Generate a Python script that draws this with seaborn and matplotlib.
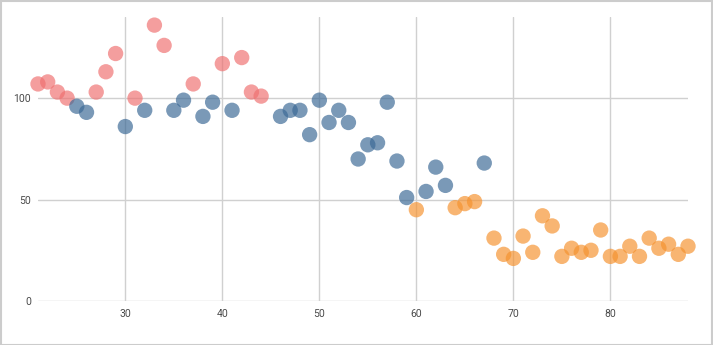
import matplotlib
matplotlib.use("Agg")
import matplotlib.pyplot as plt
from matplotlib.patches import Rectangle
import pandas as pd
import seaborn as sns

# Three groups of (age, value) observations
red_x = [21, 22, 23, 24, 27, 28, 29, 31, 33, 34, 37, 40, 42, 43, 44]
red_y = [107, 108, 103, 100, 103, 113, 122, 100, 136, 126, 107, 117, 120, 103, 101]

blue_x = [25, 26, 30, 32, 35, 36, 38, 39, 41, 46, 47, 48, 49, 50, 51, 52, 53,
          54, 55, 56, 57, 58, 59, 61, 62, 63, 67]
blue_y = [96, 93, 86, 94, 94, 99, 91, 98, 94, 91, 94, 94, 82, 99, 88, 94, 88,
          70, 77, 78, 98, 69, 51, 54, 66, 57, 68]

orange_x = [60, 64, 65, 66, 68, 69, 70, 71, 72, 73, 74, 75, 76, 77, 78, 79, 80,
            81, 82, 83, 84, 85, 86, 87, 88]
orange_y = [45, 46, 48, 49, 31, 23, 21, 32, 24, 42, 37, 22, 26, 24, 25, 35, 22,
            22, 27, 22, 31, 26, 28, 23, 27]

x_ticks = [30, 40, 50, 60, 70, 80]
y_ticks = [0, 50, 100]

df = pd.concat([
    pd.DataFrame({"x": red_x, "y": red_y, "group": "red"}),
    pd.DataFrame({"x": blue_x, "y": blue_y, "group": "blue"}),
    pd.DataFrame({"x": orange_x, "y": orange_y, "group": "orange"}),
], ignore_index=True)

palette = {"red": "#ef7070", "blue": "#3b6996", "orange": "#f5922f"}

sns.set_style("white")
plt.rcParams["font.family"] = ["Roboto", "DejaVu Sans"]

fig = plt.figure(figsize=(7.13, 3.45), dpi=100)
W, H = 713, 345
ax = fig.add_axes([38 / W, (H - 301) / H, (688 - 38) / W, (301 - 17) / H])

sns.scatterplot(data=df, x="x", y="y", hue="group", palette=palette,
                s=122, alpha=0.68, linewidth=0, legend=False, ax=ax,
                clip_on=False, zorder=3)

ax.set_xlim(21, 88)
ax.set_ylim(0, 140)
ax.set_xticks(x_ticks)
ax.set_yticks(y_ticks)
ax.set_xticklabels([str(v) for v in x_ticks])
ax.set_yticklabels([str(v) for v in y_ticks])
ax.set_xlabel("")
ax.set_ylabel("")
ax.grid(True, color="#d0d0d0", linewidth=1.0)
ax.set_axisbelow(True)
for sp in ax.spines.values():
    sp.set_visible(False)
ax.tick_params(axis="both", length=0, labelsize=7.5, labelcolor="#4a4a4a")
ax.tick_params(axis="x", pad=6)
ax.tick_params(axis="y", pad=5)

# Light frame around the whole figure
fig.patches.append(Rectangle((0.5 / W, 0.5 / H), 1 - 1.5 / W, 1 - 1.5 / H,
                             transform=fig.transFigure, fill=False,
                             edgecolor="#cccccc", linewidth=1.5))

fig.savefig("out.png", dpi=100)
